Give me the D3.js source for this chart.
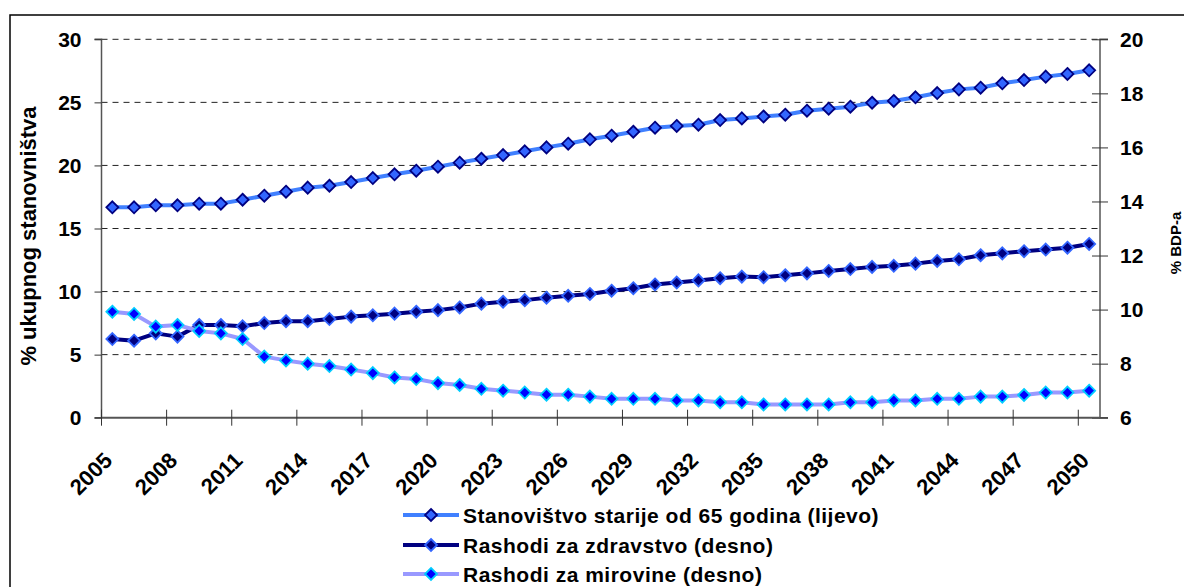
<!DOCTYPE html>
<html>
<head>
<meta charset="utf-8">
<script src="https://cdn.jsdelivr.net/npm/d3@7/dist/d3.min.js"></script>
<style>
  body { margin: 0; background: #fff; }
  svg text { font-family: "Liberation Sans", Arial, sans-serif; font-weight: bold; fill: #000; }
</style>
</head>
<body>
<div id="chart"></div>
<script>
// --- Data ---
const years = d3.range(2005, 2051);
const tickYears = d3.range(2005, 2051, 3);

// % of total population, left axis
const population65 = [16.68, 16.68, 16.84, 16.84, 16.97, 16.97, 17.28, 17.6, 17.92, 18.24,
    18.39, 18.68, 19.0, 19.3, 19.58, 19.9, 20.22, 20.53, 20.82, 21.12,
    21.43, 21.72, 22.07, 22.36, 22.67, 22.99, 23.13, 23.23, 23.6, 23.73,
    23.88, 24.02, 24.34, 24.5, 24.66, 24.97, 25.11, 25.4, 25.74, 26.03,
    26.16, 26.51, 26.77, 27.04, 27.25, 27.54];

// % of GDP, right axis
const healthSpending = [8.91, 8.85, 9.12, 9.0, 9.43, 9.43, 9.38, 9.5, 9.57, 9.57,
    9.65, 9.74, 9.79, 9.85, 9.92, 9.98, 10.08, 10.22, 10.29, 10.35,
    10.44, 10.51, 10.58, 10.7, 10.79, 10.93, 11.0, 11.08, 11.16, 11.22,
    11.2, 11.27, 11.34, 11.43, 11.5, 11.58, 11.62, 11.7, 11.8, 11.86,
    12.01, 12.08, 12.16, 12.22, 12.29, 12.43];

const pensionSpending = [9.92, 9.84, 9.37, 9.43, 9.21, 9.12, 8.91, 8.26, 8.12, 8.0,
    7.91, 7.78, 7.65, 7.49, 7.43, 7.28, 7.21, 7.07, 7.0, 6.93,
    6.85, 6.85, 6.78, 6.7, 6.7, 6.7, 6.64, 6.64, 6.57, 6.57,
    6.49, 6.49, 6.49, 6.49, 6.57, 6.57, 6.64, 6.64, 6.7, 6.7,
    6.78, 6.78, 6.84, 6.93, 6.93, 7.0];

const leftTicks = [0, 5, 10, 15, 20, 25, 30];
const rightTicks = [6, 8, 10, 12, 14, 16, 18, 20];

const seriesNames = [
    'Stanovištvo starije od 65 godina (lijevo)',
    'Rashodi za zdravstvo (desno)',
    'Rashodi za mirovine (desno)'
];

// --- Layout ---
const WIDTH = 1184, HEIGHT = 587;
const FONT = '"Liberation Sans", Arial, sans-serif';
const plot = { left: 101.5, right: 1100, top: 39.3, bottom: 417.7 };

const svg = d3.select('#chart').append('svg')
    .attr('width', WIDTH)
    .attr('height', HEIGHT);

// outer frame (runs off the right and bottom edges like the source)
svg.append('rect')
    .attr('x', 10).attr('y', 15)
    .attr('width', 1200).attr('height', 600)
    .attr('fill', 'none')
    .attr('stroke', '#000')
    .attr('stroke-width', 1.5);

const x = d3.scaleBand().domain(years).range([plot.left, plot.right]).padding(0);
const xc = yr => x(yr) + x.bandwidth() / 2;
const yLeft = d3.scaleLinear().domain([0, 30]).range([plot.bottom, plot.top]);
const yRight = d3.scaleLinear().domain([6, 20]).range([plot.bottom, plot.top]);

// --- Gridlines ---
svg.append('g')
    .selectAll('line')
    .data(leftTicks.filter(d => d > 0))
    .join('line')
    .attr('x1', plot.left).attr('x2', plot.right)
    .attr('y1', d => yLeft(d)).attr('y2', d => yLeft(d))
    .attr('stroke', '#222')
    .attr('stroke-width', 1)
    .attr('stroke-dasharray', '6,5');

// --- Axes ---
const leftAxis = svg.append('g')
    .attr('transform', `translate(${plot.left},0)`)
    .call(d3.axisLeft(yLeft).tickValues(leftTicks).tickSize(7).tickPadding(13));

const rightAxis = svg.append('g')
    .attr('transform', `translate(${plot.right},0)`)
    .call(d3.axisRight(yRight).tickValues(rightTicks).tickSize(8).tickPadding(12));
rightAxis.selectAll('.tick line').attr('x1', -8);

const xAxis = svg.append('g')
    .attr('transform', `translate(0,${plot.bottom})`)
    .call(d3.axisBottom(x).tickValues(tickYears).tickSize(8).tickFormat(''));
xAxis.selectAll('.tick').attr('transform', d => `translate(${x(d)},0)`);
xAxis.selectAll('.tick line').attr('y1', -8);

[leftAxis, rightAxis, xAxis].forEach(g => {
    g.attr('font-family', FONT).attr('font-weight', 'bold');
    g.select('.domain').attr('stroke', '#555').attr('stroke-width', 1.5);
    g.selectAll('.tick line').attr('stroke', '#333');
    g.selectAll('text').attr('font-size', 21).attr('font-weight', 'bold');
});
leftAxis.select('.domain').attr('d', `M-7,${plot.top}H0V${plot.bottom}H-7`);
rightAxis.select('.domain').attr('d', `M8,${plot.top}H0V${plot.bottom}H8`);
xAxis.select('.domain').attr('d', `M${plot.left},0H${plot.right}`).attr('stroke-width', 2);

// rotated year labels
svg.append('g')
    .selectAll('text')
    .data(tickYears)
    .join('text')
    .attr('transform', d => `translate(${x(d) + 1},${plot.bottom + 33}) rotate(-45)`)
    .attr('text-anchor', 'end')
    .attr('dy', '0.71em')
    .attr('font-size', 22)
    .attr('font-weight', 'bold')
    .text(d => d);

// axis titles
svg.append('text')
    .attr('transform', `translate(36,236) rotate(-90)`)
    .attr('text-anchor', 'middle')
    .attr('font-size', 22)
    .attr('font-weight', 'bold')
    .text('% ukupnog stanovništva');

svg.append('text')
    .attr('transform', `translate(1181,243) rotate(-90)`)
    .attr('text-anchor', 'middle')
    .attr('font-size', 15)
    .attr('font-weight', 'bold')
    .text('% BDP-a');

// --- Series ---
const series = [
    { name: seriesNames[0], values: population65, y: yLeft, line: '#4080ff', fill: '#3366ff', stroke: '#000080' },
    { name: seriesNames[1], values: healthSpending, y: yRight, line: '#000080', fill: '#000080', stroke: '#3366ff' },
    { name: seriesNames[2], values: pensionSpending, y: yRight, line: '#9999ff', fill: '#0000ff', stroke: '#00ccff' }
];

const diamond = s => `M0,${-s}L${s},0L0,${s}L${-s},0Z`;

series.forEach(s => {
    const line = d3.line()
        .x((d, i) => xc(years[i]))
        .y(d => s.y(d));
    svg.append('path')
        .datum(s.values)
        .attr('d', line)
        .attr('fill', 'none')
        .attr('stroke', s.line)
        .attr('stroke-width', 4)
        .attr('stroke-linejoin', 'round');
});

series.forEach(s => {
    svg.append('g')
        .selectAll('path')
        .data(s.values)
        .join('path')
        .attr('transform', (d, i) => `translate(${xc(years[i])},${s.y(d)})`)
        .attr('d', diamond(6))
        .attr('fill', s.fill)
        .attr('stroke', s.stroke)
        .attr('stroke-width', 1.8);
});

// --- Legend ---
const legend = svg.append('g').attr('transform', 'translate(403,515)');
const rows = legend.selectAll('g')
    .data(series)
    .join('g')
    .attr('transform', (d, i) => `translate(0,${[0, 30, 59][i]})`);
rows.append('line')
    .attr('x1', 0).attr('x2', 56)
    .attr('stroke', d => d.line)
    .attr('stroke-width', 4);
rows.append('path')
    .attr('transform', 'translate(28,0)')
    .attr('d', diamond(6))
    .attr('fill', d => d.fill)
    .attr('stroke', d => d.stroke)
    .attr('stroke-width', 1.8);
rows.append('text')
    .attr('x', 60)
    .attr('dy', '0.36em')
    .attr('font-size', 21)
    .attr('letter-spacing', 0.5)
    .attr('font-weight', 'bold')
    .text(d => d.name);
</script>
</body>
</html>
